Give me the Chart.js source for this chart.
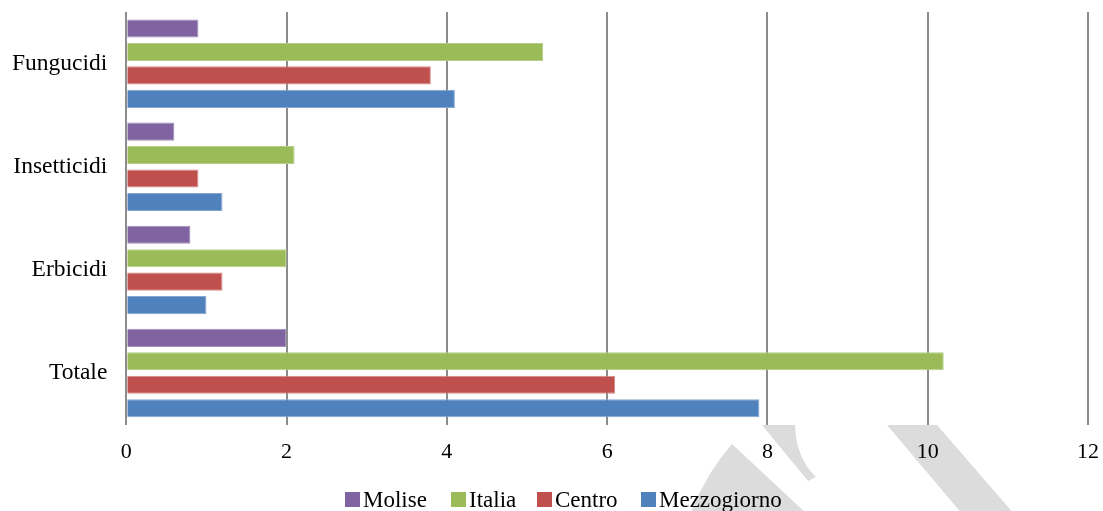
<!DOCTYPE html>
<html>
<head>
<meta charset="utf-8">
<script src="https://cdn.jsdelivr.net/npm/chart.js@4"></script>
<style>
  html, body { margin: 0; padding: 0; background: #fff; overflow: hidden; width: 1103px; height: 511px; position: relative; }
  #wrap { position: absolute; left: 1px; top: -13px; width: 1112px; height: 524px; }
  .lg { position: absolute; top: 487px; font-family: 'Liberation Serif', 'Times New Roman', serif; font-size: 23px; line-height: normal; color: #000; white-space: nowrap; }
  .lg i { display: inline-block; width: 15px; height: 15px; margin-right: 3px; vertical-align: baseline; }
</style>
</head>
<body>
<div id="wrap"><canvas id="c"></canvas></div>
<div id="legend"></div>
<script>
const categories = ["Fungucidi", "Insetticidi", "Erbicidi", "Totale"];
const seriesNames = ["Molise", "Italia", "Centro", "Mezzogiorno"];
const molise = [0.9, 0.6, 0.8, 2.0];
const italia = [5.2, 2.1, 2.0, 10.2];
const centro = [3.8, 0.9, 1.2, 6.1];
const mezzogiorno = [4.1, 1.2, 1.0, 7.9];
const xTicks = [0, 2, 4, 6, 8, 10, 12];

const colors = ["#8064A2", "#9BBB59", "#C0504D", "#4F81BD"];
const borders = ["#A28DBB", "#B5CE88", "#D48A88", "#86A7D1"];
const seriesValues = [molise, italia, centro, mezzogiorno];
const legendX = [345, 451, 537, 641];

const fontFamily = "'Liberation Serif', 'Times New Roman', serif";
const OX = -1, OY = 13; // page -> canvas offset

const watermark = {
  id: 'watermark',
  beforeDraw(chart) {
    const ctx = chart.ctx;
    ctx.save();
    ctx.translate(OX, OY);
    ctx.fillStyle = '#DCDCDC';
    ctx.beginPath();
    ctx.moveTo(887, 425); ctx.lineTo(937, 425); ctx.lineTo(1015, 515); ctx.lineTo(963, 515);
    ctx.closePath(); ctx.fill();
    ctx.beginPath();
    ctx.moveTo(762, 425); ctx.lineTo(795, 425);
    ctx.quadraticCurveTo(796, 458, 816, 477);
    ctx.lineTo(808, 481);
    ctx.closePath(); ctx.fill();
    ctx.beginPath();
    ctx.moveTo(690, 515); ctx.quadraticCurveTo(705, 475, 732, 444);
    ctx.lineTo(808, 515);
    ctx.closePath(); ctx.fill();
    ctx.restore();
  }
};

new Chart(document.getElementById('c'), {
  type: 'bar',
  data: {
    labels: categories,
    datasets: seriesNames.map((n, i) => ({
      label: n,
      data: seriesValues[i],
      backgroundColor: colors[i],
      borderColor: borders[i],
      borderWidth: 1,
      categoryPercentage: 0.91,
      barPercentage: 0.77
    }))
  },
  options: {
    indexAxis: 'y',
    responsive: true,
    maintainAspectRatio: false,
    animation: false,
    layout: { padding: { top: 0, right: 0, left: 0, bottom: 32 } },
    plugins: {
      tooltip: { enabled: false },
      legend: { display: false }
    },
    scales: {
      x: {
        min: 0, max: 12,
        afterBuildTicks(axis) { axis.ticks = xTicks.map(v => ({ value: v })); },
        grid: { color: '#8C8C8C', lineWidth: 2, drawTicks: false },
        border: { display: false },
        ticks: { color: '#000', font: { family: fontFamily, size: 22 }, padding: 14, maxRotation: 0 }
      },
      y: {
        grid: { display: false },
        border: { display: false },
        ticks: { color: '#000', font: { family: fontFamily, size: 23.5 }, padding: 11 }
      }
    }
  },
  plugins: [watermark]
});

const lg = document.getElementById('legend');
seriesNames.forEach((n, i) => {
  const d = document.createElement('div');
  d.className = 'lg';
  d.style.left = legendX[i] + 'px';
  const b = document.createElement('i');
  b.style.background = colors[i];
  d.appendChild(b);
  d.appendChild(document.createTextNode(n));
  lg.appendChild(d);
});
</script>
</body>
</html>
